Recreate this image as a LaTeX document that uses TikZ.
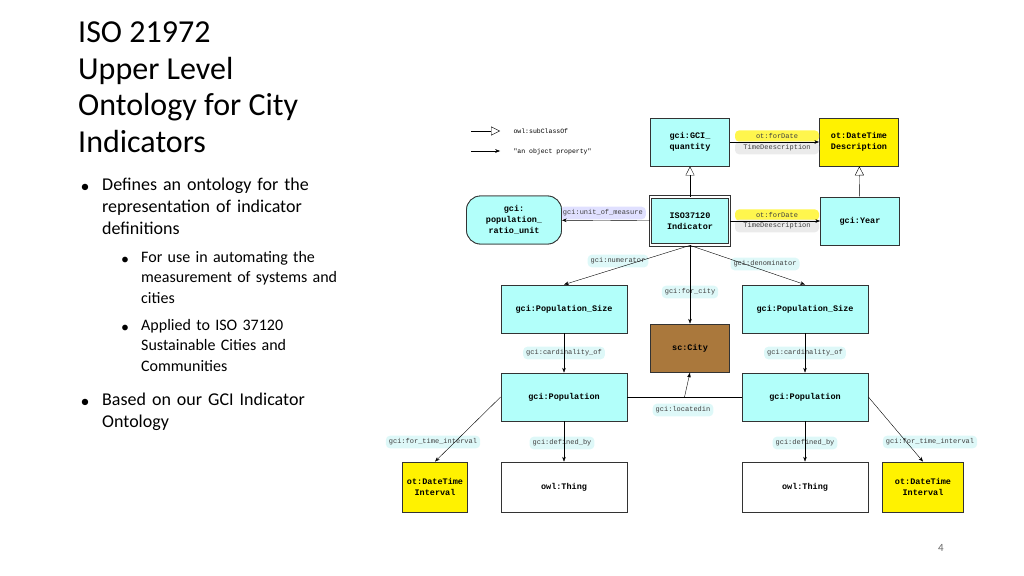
\documentclass[tikz,border=0pt]{standalone}
\usepackage{fontspec}
\setmainfont{Carlito}
\newfontfamily\codefont{Liberation Mono}
\usetikzlibrary{arrows.meta}
\definecolor{clsfill}{RGB}{178,255,250}
\definecolor{citybrown}{RGB}{170,120,60}
\definecolor{labfill}{RGB}{222,248,248}
\tikzset{
	cls/.style={draw=black!80,thick,fill=clsfill,minimum width=79pt,minimum height=48pt,align=center,font=\codefont\bfseries\fontsize{8.5}{11}\selectfont},
	wide/.style={cls,minimum width=126pt},
	lab/.style={fill=labfill,rounded corners=4pt,inner sep=3pt,font=\codefont\fontsize{7}{9}\selectfont,text=black!75},
	sub/.style={-{Triangle[open,length=9pt,width=9pt]}},
	prop/.style={->,>=Stealth}
}
\begin{document}
\begin{tikzpicture}[x=1pt,y=-1pt]
	\useasboundingbox (0,0) rectangle (1024,575);
	% slide text
	\node[anchor=north west,align=left,font=\fontsize{32}{36.5}\selectfont,inner sep=0pt] (title) at (78,22) {ISO 21972\\Upper Level\\Ontology for City\\Indicators};
	\node[anchor=north west,align=left,text width=270pt,font=\fontsize{18}{22}\selectfont,inner sep=0pt] (b1) at (102,178) {Defines an ontology for the\\representation of indicator\\definitions};
	\node[anchor=north west,align=left,text width=270pt,font=\fontsize{16}{20.5}\selectfont,inner sep=0pt] (b2) at (141,251) {For use in automating the\\measurement of systems and\\cities};
	\node[anchor=north west,align=left,text width=270pt,font=\fontsize{16}{20.5}\selectfont,inner sep=0pt] (b3) at (141,319) {Applied to ISO 37120\\Sustainable Cities and\\Communities};
	\node[anchor=north west,align=left,text width=270pt,font=\fontsize{18}{22}\selectfont,inner sep=0pt] (b4) at (102,393) {Based on our GCI Indicator\\Ontology};
	\foreach \x/\y/\s in {85/188/18,125/261/16,125/329/16,85/403/18}
		\node[font=\fontsize{\s}{\s}\selectfont,inner sep=0pt] at (\x,\y) {•};
	\node[font=\fontsize{11}{11}\selectfont,text=black!60] (page) at (941,548) {4};

	% legend
	\coordinate (l1a) at (471,131);
	\coordinate (l1b) at (500,131);
	\coordinate (l2a) at (471,151);
	\coordinate (l2b) at (500,151);
	\draw[sub] (l1a) -- (l1b);
	\draw[prop] (l2a) -- (l2b);
	\node[anchor=west,font=\codefont\fontsize{6.5}{8}\selectfont] (l1) at (510,131) {owl:subClassOf};
	\node[anchor=west,font=\codefont\fontsize{6.5}{8}\selectfont] (l2) at (510,152) {"an object property"};

	% classes
	\node[cls] (quantity) at (690,142) {gci:GCI\_\\quantity};
	\node[cls,fill=yellow] (desc) at (859,142) {ot:DateTime\\Description};
	\node[cls,double,double distance=1.5pt] (indicator) at (690,221) {ISO37120\\Indicator};
	\node[cls] (year) at (860,221) {gci:Year};
	\node[cls,minimum width=95pt,rounded corners=14pt] (unit) at (514,220) {gci:\\population\_\\ratio\_unit};
	\node[wide] (sizeL) at (564,309) {gci:Population\_Size};
	\node[wide] (sizeR) at (805,309) {gci:Population\_Size};
	\node[cls,fill=citybrown] (city) at (690,348) {sc:City};
	\node[wide] (popL) at (564,397) {gci:Population};
	\node[wide] (popR) at (805,397) {gci:Population};
	\node[cls,fill=yellow,minimum width=65pt,minimum height=50pt] (intL) at (435,487) {ot:DateTime\\Interval};
	\node[wide,fill=white,minimum height=50pt] (thingL) at (564,487) {owl:Thing};
	\node[wide,fill=white,minimum height=50pt] (thingR) at (805,487) {owl:Thing};
	\node[cls,fill=yellow,minimum width=81pt,minimum height=50pt] (intR) at (923,487) {ot:DateTime\\Interval};

	% property labels
	\node[lab,fill=yellow!70,minimum width=84pt] (fd1) at (777,136) {ot:forDate};
	\node[lab,fill=black!8,minimum width=84pt] (td1) at (777,148) {TimeDeescription};
	\node[lab,fill=yellow!70,minimum width=84pt] (fd2) at (777,215) {ot:forDate};
	\node[lab,fill=black!8,minimum width=84pt] (td2) at (777,226) {TimeDeescription};
	\node[lab,fill=blue!12,anchor=east] (measure) at (646,213) {gci:unit\_of\_measure};
	\node[lab] (num) at (618,261) {gci:numerator};
	\node[lab] (den) at (765,264) {gci:denominator};
	\node[lab] (forcity) at (690,292) {gci:for\_city};
	\node[lab] (cardL) at (564,353) {gci:cardinality\_of};
	\node[lab] (cardR) at (805,353) {gci:cardinality\_of};
	\node[lab] (located) at (683,410) {gci:locatedin};
	\node[lab] (timeL) at (433,442) {gci:for\_time\_interval};
	\node[lab] (defL) at (562,443) {gci:defined\_by};
	\node[lab] (defR) at (805,443) {gci:defined\_by};
	\node[lab] (timeR) at (930,442) {gci:for\_time\_interval};
	% redraw unit box over its label
	\node[cls,minimum width=95pt,rounded corners=14pt] at (unit) {gci:\\population\_\\ratio\_unit};

	% connectors
	\draw[sub] (indicator) -- (quantity);
	\draw[sub] (year) -- (desc);
	\draw[prop] (quantity) -- (desc);
	\draw[prop] (indicator) -- (year);
	\draw[prop] (indicator) -- (unit);
	\draw[prop] (indicator.south) -- (sizeL.north);
	\draw[prop] (indicator.south) -- (sizeR.north);
	\draw[prop] (indicator.south) -- (city.north);
	\draw[prop] (sizeL) -- (popL);
	\draw[prop] (sizeR) -- (popR);
	\draw (popL.east) -- coordinate[pos=.5] (mid) (popR.west);
	\draw[-Latex] (mid) -- (city.south);
	\draw[prop] (popL.west) -- (intL.north);
	\draw[prop] (popR.east) -- (intR.north);
	\draw[prop] (popL) -- (thingL);
	\draw[prop] (popR) -- (thingR);
\end{tikzpicture}
\end{document}
